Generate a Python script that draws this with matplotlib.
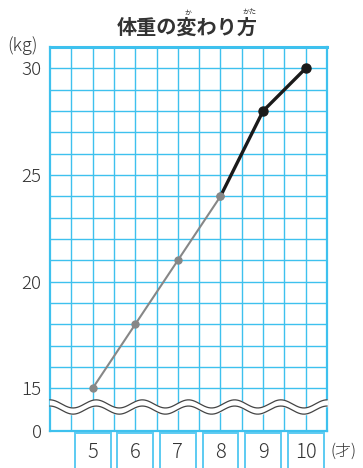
import matplotlib
matplotlib.use('Agg')
import matplotlib.pyplot as plt
import matplotlib.transforms as mtransforms
from matplotlib.patches import Rectangle
import numpy as np

plt.rcParams['font.family'] = ['Noto Sans CJK JP', 'DejaVu Sans']

# data
ages = [5, 6, 7, 8, 9, 10]
weights = [15, 18, 21, 24, 28, 30]
ytick_values = [15, 20, 25, 30]
ytick_labels = ['15', '20', '25', '30']

# the axis is broken between 0 and 15, so 0 is drawn at y = 13
zero_pos = 13
grid_color = '#3ec1ee'
box_color = '#5ccbf2'
text_color = '#333333'

fig = plt.figure(figsize=(3.63, 4.68), dpi=100)
ax = fig.add_axes([50 / 363, 37 / 468, 277 / 363, 384 / 468])
ax.set_xlim(4, 10.5)
ax.set_ylim(zero_pos, 31)

# grid
for gx in np.arange(4.5, 10.5, 0.5):
    ax.axvline(gx, color=grid_color, lw=1.0, zorder=1)
for gy in range(15, 31):
    ax.axhline(gy, color=grid_color, lw=1.0, zorder=1)
for s in ax.spines.values():
    s.set_color(grid_color)
    s.set_linewidth(1.6)
ax.spines['top'].set_linewidth(2.2)

# wave break
wx = np.linspace(4, 10.5, 600)
phase = 2 * np.pi * (wx - 4) / (6.5 / 6)
upper = 14.27 + 0.19 * np.cos(phase)
lower = 13.98 + 0.19 * np.cos(phase)
ax.fill_between(wx, lower, upper, color='white', zorder=3, clip_on=False)
ax.plot(wx, upper, color='#444444', lw=0.9, zorder=4, clip_on=False)
ax.plot(wx, lower, color='#444444', lw=0.9, zorder=4, clip_on=False)

# line
ax.plot(ages[:4], weights[:4], color='#878787', lw=1.5, marker='o',
        ms=5, zorder=5)
ax.plot(ages[3:], weights[3:], color='#1a1a1a', lw=2.4, zorder=5)
ax.plot(ages[4:], weights[4:], 'o', color='#1a1a1a', ms=6.5, zorder=6)
ax.plot(ages[3], weights[3], 'o', color='#878787', ms=5, zorder=6)

ax.set_xticks([])
ax.set_yticks(ytick_values + [zero_pos])
ax.set_yticklabels(ytick_labels + ['0'], fontsize=13.5, color=text_color,
                   fontweight='light')
ax.tick_params(axis='y', length=0, pad=6)

# boxed x labels
trans = mtransforms.blended_transform_factory(ax.transData, fig.transFigure)
for a in ages:
    ax.add_patch(Rectangle((a - 0.42, -0.02), 0.84, 0.0769 + 0.02 - 0.002,
                           transform=trans, fill=False, ec=box_color,
                           lw=1.4, clip_on=False))
    ax.text(a, 0.034, str(a), transform=trans, ha='center', va='center',
            fontsize=14.5, color=text_color, fontweight='light')

fig.text(331 / 363, 0.036, '(才)', ha='left', va='center', fontsize=11.5,
         color=text_color, fontweight='light')
fig.text(7 / 363, (468 - 46) / 468, '(kg)', ha='left', va='center',
         fontsize=13, color=text_color, fontweight='light')

# title with furigana
fig.text(187 / 363, (468 - 27) / 468, '体重の変わり方', ha='center',
         va='center', fontsize=14.5, fontweight='bold', color=text_color)
fig.text(188 / 363, (468 - 13) / 468, 'か', ha='center', va='center',
         fontsize=5, color=text_color)
fig.text(249 / 363, (468 - 13) / 468, 'かた', ha='center', va='center',
         fontsize=5, color=text_color)

fig.savefig('out.png', dpi=100)
